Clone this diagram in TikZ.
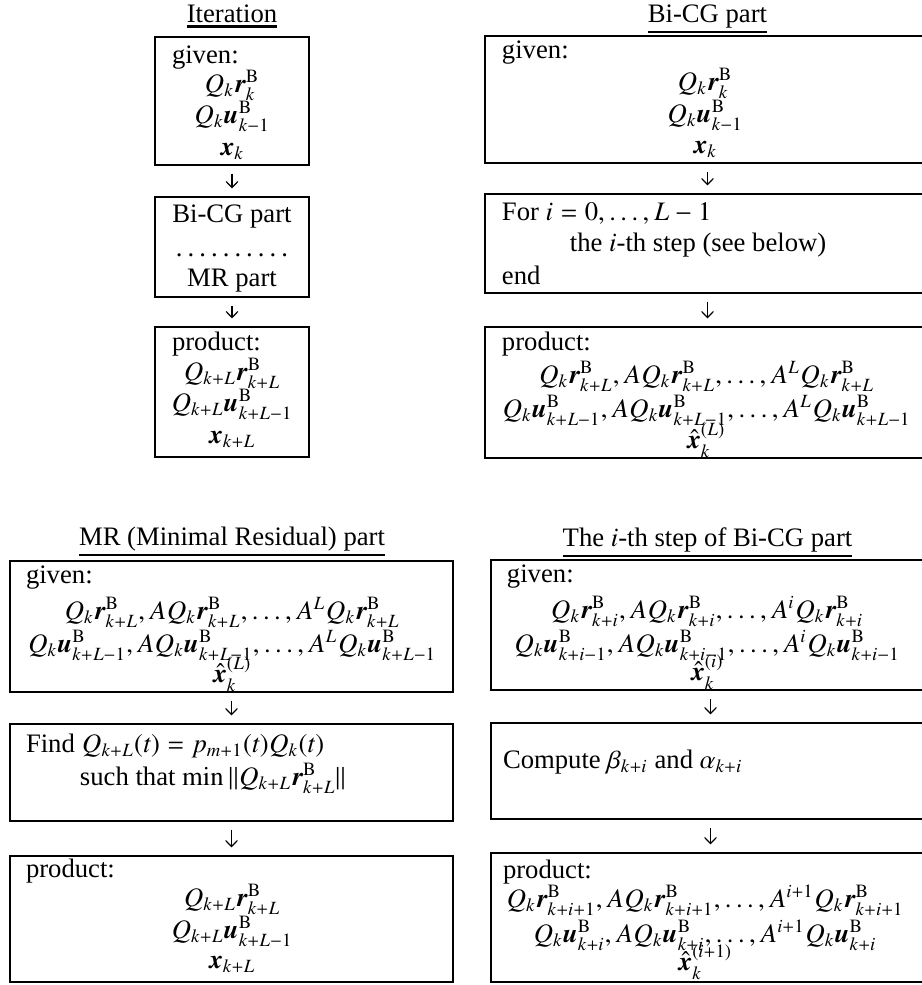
\documentclass[tikz,border=0pt]{standalone}
\usepackage{txfonts}
\usepackage{bm}
\usepackage[no-math]{fontspec}
\setmainfont{Liberation Serif}
\usetikzlibrary{arrows.meta,calc}
\tikzset{
  boxst/.style={draw, line width=1.1pt, inner sep=0pt, outer sep=0pt},
  txt/.style={inner sep=0pt, outer sep=0pt, anchor=base, font=\fontsize{10}{12}\selectfont},
  txtl/.style={inner sep=0pt, outer sep=0pt, anchor=base west, font=\fontsize{10}{12}\selectfont},
  arr/.style={line width=0.45pt, -{Straight Barb[length=2.3pt,width=4.4pt]}, shorten <=3.2pt, shorten >=3.2pt},
  ulst/.style={line width=0.8pt}
}
\newcommand\mybox[5]{\node[boxst, anchor=north west, minimum width={(#4-#2)*0.375pt}, minimum height={(#5-#3)*0.375pt}] (#1) at (#2,#3) {};}
\newcommand\Bsup{\mathrm{B}}
\begin{document}
\begin{tikzpicture}[x=0.375pt, y=-0.375pt]
\useasboundingbox (0,0) rectangle (922,985);
\clip (0,0) rectangle (922,985);

% ---------- Iteration ----------
\node[txt] (tIt) at (232,22) {Iteration};
\draw[ulst] ([yshift=-1.6pt]tIt.south west) -- ([yshift=-1.6pt]tIt.south east);
\mybox{it1}{155}{37}{309}{165}
\node[txtl] (it1g) at (172,63) {given:};
\node[txt] (it1a) at (232,92) {$Q_k\bm{r}^{\Bsup}_k$};
\node[txt] (it1b) at (232,123) {$Q_k\bm{u}^{\Bsup}_{k-1}$};
\node[txt] (it1c) at (232,155) {$\bm{x}_k$};
\mybox{it2}{155}{197}{309}{297}
\node[txt] (it2a) at (232,222) {Bi-CG part};
\node[txt] (it2b) at (232,256) {\hbox to 45pt{\dotfill}};
\node[txt] (it2c) at (232,286) {MR part};
\mybox{it3}{155}{327}{309}{457}
\node[txtl] (it3g) at (172,350) {product:};
\node[txt] (it3a) at (232,380) {$Q_{k+L}\bm{r}^{\Bsup}_{k+L}$};
\node[txt] (it3b) at (232,411) {$Q_{k+L}\bm{u}^{\Bsup}_{k+L-1}$};
\node[txt] (it3c) at (232,443) {$\bm{x}_{k+L}$};
\draw[arr] (it1) -- (it2);
\draw[arr] (it2) -- (it3);

% ---------- Bi-CG part ----------
\node[txt] (tBc) at (707.5,22) {Bi-CG part};
\draw[ulst] ([yshift=-1.6pt]tBc.south west) -- ([yshift=-1.6pt]tBc.south east);
\mybox{bc1}{485}{36}{930}{163}
\node[txtl] (bc1g) at (502,58) {given:};
\node[txt] (bc1a) at (705,90) {$Q_k\bm{r}^{\Bsup}_k$};
\node[txt] (bc1b) at (705,122) {$Q_k\bm{u}^{\Bsup}_{k-1}$};
\node[txt] (bc1c) at (705,153) {$\bm{x}_k$};
\mybox{bc2}{485}{194}{930}{293}
\node[txtl] (bc2a) at (502,220) {For $i=0,\ldots,L-1$};
\node[txtl] (bc2b) at (570,251) {the $i$-th step (see below)};
\node[txtl] (bc2c) at (502,284) {end};
\mybox{bc3}{485}{327}{930}{458}
\node[txtl] (bc3g) at (502,350) {product:};
\node[txt] (bc3a) at (706.5,383) {$Q_k\bm{r}^{\Bsup}_{k+L}, AQ_k\bm{r}^{\Bsup}_{k+L}, \ldots, A^LQ_k\bm{r}^{\Bsup}_{k+L}$};
\node[txt] (bc3b) at (706.5,417) {$Q_k\bm{u}^{\Bsup}_{k+L-1}, AQ_k\bm{u}^{\Bsup}_{k+L-1}, \ldots, A^LQ_k\bm{u}^{\Bsup}_{k+L-1}$};
\node[txt] (bc3c) at (706,448) {$\hat{\bm{x}}^{(L)}_k$};
\draw[arr] (bc1) -- (bc2);
\draw[arr] (bc2) -- (bc3);

% ---------- MR part ----------
\node[txt] (tMr) at (232,545) {MR (Minimal Residual) part};
\draw[ulst] ([yshift=-1.6pt]tMr.south west) -- ([yshift=-1.6pt]tMr.south east);
\mybox{mr1}{10}{561}{453}{692}
\node[txtl] (mr1g) at (26,583) {given:};
\node[txt] (mr1a) at (232,619) {$Q_k\bm{r}^{\Bsup}_{k+L}, AQ_k\bm{r}^{\Bsup}_{k+L}, \ldots, A^LQ_k\bm{r}^{\Bsup}_{k+L}$};
\node[txt] (mr1b) at (232,652) {$Q_k\bm{u}^{\Bsup}_{k+L-1}, AQ_k\bm{u}^{\Bsup}_{k+L-1}, \ldots, A^LQ_k\bm{u}^{\Bsup}_{k+L-1}$};
\node[txt] (mr1c) at (232,682) {$\hat{\bm{x}}^{(L)}_k$};
\mybox{mr2}{10}{724}{453}{821}
\node[txtl] (mr2a) at (26,752) {Find $Q_{k+L}(t)=p_{m+1}(t)Q_k(t)$};
\node[txtl] (mr2b) at (80,785) {such that $\min\|Q_{k+L}\bm{r}^{\Bsup}_{k+L}\|$};
\mybox{mr3}{10}{856}{453}{982}
\node[txtl] (mr3g) at (26,877) {product:};
\node[txt] (mr3a) at (232,906) {$Q_{k+L}\bm{r}^{\Bsup}_{k+L}$};
\node[txt] (mr3b) at (232,938) {$Q_{k+L}\bm{u}^{\Bsup}_{k+L-1}$};
\node[txt] (mr3c) at (232,968) {$\bm{x}_{k+L}$};
\draw[arr] (mr1) -- (mr2);
\draw[arr] (mr2) -- (mr3);

% ---------- i-th step ----------
\node[txt] (tSt) at (707.5,546) {The $i$-th step of Bi-CG part};
\draw[ulst] ([yshift=-1.6pt]tSt.south west) -- ([yshift=-1.6pt]tSt.south east);
\mybox{st1}{491}{560}{930}{690}
\node[txtl] (st1g) at (507,582) {given:};
\node[txt] (st1a) at (707,618) {$Q_k\bm{r}^{\Bsup}_{k+i}, AQ_k\bm{r}^{\Bsup}_{k+i}, \ldots, A^iQ_k\bm{r}^{\Bsup}_{k+i}$};
\node[txt] (st1b) at (707,652) {$Q_k\bm{u}^{\Bsup}_{k+i-1}, AQ_k\bm{u}^{\Bsup}_{k+i-1}, \ldots, A^iQ_k\bm{u}^{\Bsup}_{k+i-1}$};
\node[txt] (st1c) at (707,680) {$\hat{\bm{x}}^{(i)}_k$};
\mybox{st2}{491}{723}{930}{819}
\node[txtl] (st2a) at (503,768) {Compute $\beta_{k+i}$ and $\alpha_{k+i}$};
\mybox{st3}{491}{853}{930}{982}
\node[txtl] (st3g) at (503,878) {product:};
\node[txt] (st3a) at (705,907) {$Q_k\bm{r}^{\Bsup}_{k+i+1}, AQ_k\bm{r}^{\Bsup}_{k+i+1}, \ldots, A^{i+1}Q_k\bm{r}^{\Bsup}_{k+i+1}$};
\node[txt] (st3b) at (705,942) {$Q_k\bm{u}^{\Bsup}_{k+i}, AQ_k\bm{u}^{\Bsup}_{k+i}, \ldots, A^{i+1}Q_k\bm{u}^{\Bsup}_{k+i}$};
\node[txt] (st3c) at (705,970) {$\hat{\bm{x}}^{(i+1)}_k$};
\draw[arr] (st1) -- (st2);
\draw[arr] (st2) -- (st3);
\end{tikzpicture}
\end{document}
